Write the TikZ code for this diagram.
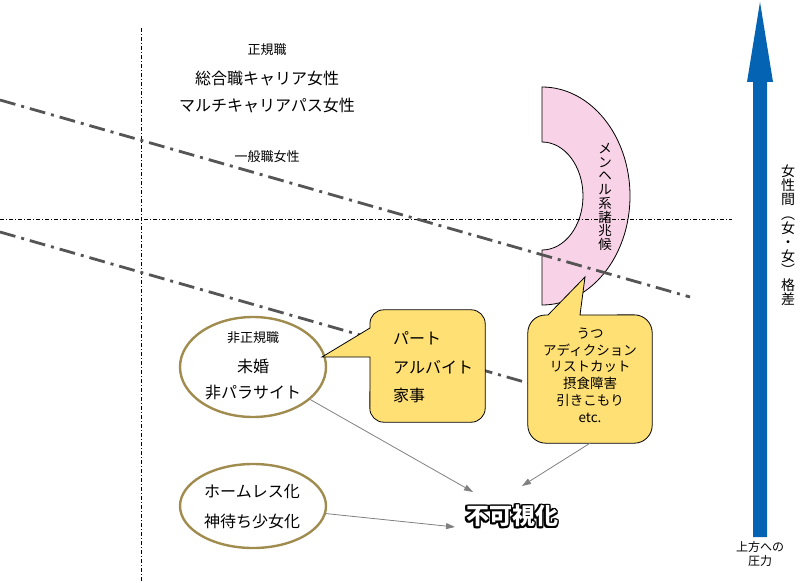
\documentclass[tikz,border=0pt]{standalone}
\usepackage{fontspec}
\setmainfont{Noto Sans CJK JP}
\usepackage{contour}
\usetikzlibrary{arrows.meta,shapes.geometric}
\definecolor{pinkfill}{HTML}{F8D2E6}
\definecolor{yel}{HTML}{FFE074}
\definecolor{olivering}{HTML}{A08C4E}
\definecolor{blu}{HTML}{0563B4}
\definecolor{linegray}{HTML}{555555}
\definecolor{arrgray}{HTML}{808080}
\newcommand\jfs[1]{\fontsize{#1}{#1}\selectfont}
\contourlength{1.6pt}
\begin{document}
\begin{tikzpicture}[x=1pt,y=-1pt,
  thindd/.style={line width=0.7pt, dash pattern=on 4pt off 2pt on 1pt off 2pt},
  thickdd/.style={line width=2.8pt, draw=linegray, dash pattern=on 16pt off 6pt on 3pt off 6pt},
  lbl/.style={inner sep=0pt},
  ring/.style={ellipse, draw=olivering, line width=2.4pt, fill=white, inner sep=0pt},
  bubble/.style={fill=yel, draw=black, line width=0.8pt},
  boxarea/.style={inner sep=0pt, draw=none},
  conn/.style={draw=arrgray, line width=0.8pt, -{Triangle[length=9pt,width=6pt]}},
  vtext/.style={inner sep=0pt, align=center}
]
\useasboundingbox (0,0) rectangle (800,583);

% thin guide lines
\draw[thindd] (141,28) -- (141,583);

% pink block arc
\draw[fill=pinkfill, line width=0.8pt] (542,87) arc[start angle=90, end angle=-90, x radius=88pt, y radius=109pt]
   -- (542,250) arc[start angle=-90, end angle=90, x radius=41pt, y radius=54pt] -- cycle;
\node[vtext, font=\fontsize{13.5}{13.75}\selectfont] (menhel) at (605,197) {メ\\ン\\ヘ\\ル\\系\\諸\\兆\\候};

\draw[thindd] (0,219) -- (732,219);

% thick dash-dot lines
\draw[thickdd] (0,100) -- (690,297);
\draw[thickdd] (0,232) -- (528,383);

% top labels
\node[lbl, font=\jfs{13}] (seiki) at (267,50) {正規職};
\node[lbl, font=\jfs{16}] (sogo) at (267,78) {総合職キャリア女性};
\node[lbl, font=\jfs{16}] (multi) at (267,106) {マルチキャリアパス女性};
\node[lbl, font=\jfs{13}] (ippan) at (267,157) {一般職女性};

% ellipses
\node[ring, minimum width=146pt, minimum height=100pt] (e1) at (253,367) {};
\node[lbl, font=\jfs{13}] (hiseiki) at (253,338) {非正規職};
\node[lbl, font=\jfs{16}] (mikon) at (253,366) {未婚};
\node[lbl, font=\jfs{16}] (hipara) at (253,393) {非パラサイト};

\node[ring, minimum width=146pt, minimum height=84pt] (e2) at (253,506) {};
\node[lbl, font=\jfs{16}] (homeless) at (252,492) {ホームレス化};
\node[lbl, font=\jfs{16}] (kami) at (252,521) {神待ち少女化};

% callout 1
\node[boxarea, minimum width=115pt, minimum height=112pt] (c1) at (427.5,366) {};
\coordinate (p1) at (322,357);
\draw[bubble] (p1) -- (370,328) [rounded corners=14pt] -- (c1.north west) -- (c1.north east) -- (c1.south east) -- (c1.south west) [sharp corners] -- (370,357) -- cycle;
\node[lbl, font=\jfs{16}, anchor=west] (part) at (393,338) {パート};
\node[lbl, font=\jfs{16}, anchor=west] (arbeit) at (393,367) {アルバイト};
\node[lbl, font=\jfs{16}, anchor=west] (kaji) at (393,395) {家事};

% callout 2
\node[boxarea, minimum width=124pt, minimum height=128pt] (c2) at (590,379) {};
\coordinate (p2) at (585,277);
\draw[bubble] (p2) -- (580,315) [rounded corners=18pt] -- (c2.north east) -- (c2.south east) -- (c2.south west) -- (c2.north west) [sharp corners] -- (548,315) -- cycle;
\node[vtext, font=\fontsize{13.5}{16.8}\selectfont] (utsu) at (590,375) {うつ\\アディクション\\リストカット\\摂食障害\\引きこもり\\etc.};

% invisible
\node[lbl, font=\jfs{23}\bfseries] (vis) at (512,517) {\color{white}\contour{black}{不可視化}};

% connectors
\coordinate (t1) at (473,492);
\coordinate (t2) at (522,486);
\coordinate (t3) at (455,527);
\draw[conn] (e1) -- (t1);
\draw[conn] (c2.south) -- (t2);
\draw[conn] (e2) -- (t3);

% blue arrow
\fill[blu] (753,537) -- (753,82) -- (747,82) -- (760,2) -- (773,82) -- (767,82) -- (767,537) -- cycle;
\node[vtext, font=\fontsize{12}{14}\selectfont] (press) at (760,554) {上方への\\圧力};
\node[vtext, font=\fontsize{14}{14.2}\selectfont] (gap) at (788,235) {女\\性\\間\\︵\\女\\・\\女\\︶\\格\\差};
\end{tikzpicture}
\end{document}
